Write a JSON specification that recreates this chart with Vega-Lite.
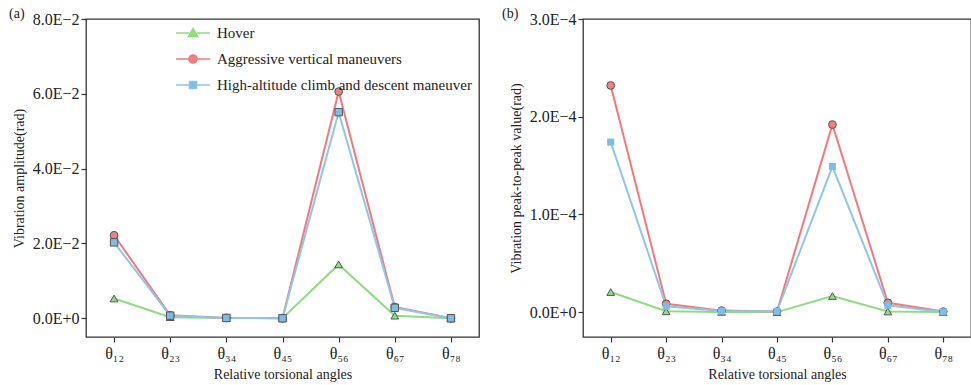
{
  "$schema": "https://vega.github.io/schema/vega-lite/v6.json",
  "background": "white",
  "padding": {"left": 8, "top": 6, "right": 1, "bottom": 2},
  "spacing": 21,
  "config": {
    "font": "Liberation Serif",
    "view": {"stroke": "#333", "strokeWidth": 1.3},
    "axis": {"grid": false, "domain": false, "tickColor": "#333", "tickSize": 5, "tickWidth": 1.2, "labelFont": "Liberation Serif", "titleFont": "Liberation Serif", "labelColor": "#222", "titleColor": "#222", "labelFontSize": 16, "titleFontSize": 14, "titleFontWeight": "normal"},
    "legend": {"labelFont": "Liberation Serif", "labelFontSize": 15, "labelColor": "#222", "labelLimit": 400},
    "title": {"font": "Liberation Serif", "fontSize": 14, "fontWeight": "normal", "color": "#222"}
  },
  "datasets": {
    "d": [
      {"angle": "θ₁₂", "series": "Hover", "amp": 0.0053, "p2p": 0.0000205},
      {"angle": "θ₂₃", "series": "Hover", "amp": 0.0003, "p2p": 0.0000008},
      {"angle": "θ₃₄", "series": "Hover", "amp": 0.0001, "p2p": 0.0000002},
      {"angle": "θ₄₅", "series": "Hover", "amp": 0.0000, "p2p": 0.0},
      {"angle": "θ₅₆", "series": "Hover", "amp": 0.0144, "p2p": 0.0000164},
      {"angle": "θ₆₇", "series": "Hover", "amp": 0.0007, "p2p": 0.0000006},
      {"angle": "θ₇₈", "series": "Hover", "amp": 0.0000, "p2p": 0.0},
      {"angle": "θ₁₂", "series": "Aggressive vertical maneuvers", "amp": 0.0222, "p2p": 0.000232},
      {"angle": "θ₂₃", "series": "Aggressive vertical maneuvers", "amp": 0.0008, "p2p": 0.0000085},
      {"angle": "θ₃₄", "series": "Aggressive vertical maneuvers", "amp": 0.0001, "p2p": 0.0000015},
      {"angle": "θ₄₅", "series": "Aggressive vertical maneuvers", "amp": 0.0000, "p2p": 0.0000005},
      {"angle": "θ₅₆", "series": "Aggressive vertical maneuvers", "amp": 0.0606, "p2p": 0.000192},
      {"angle": "θ₆₇", "series": "Aggressive vertical maneuvers", "amp": 0.0030, "p2p": 0.0000095},
      {"angle": "θ₇₈", "series": "Aggressive vertical maneuvers", "amp": 0.0000, "p2p": 0.0000005},
      {"angle": "θ₁₂", "series": "High-altitude climb and descent maneuver", "amp": 0.0203, "p2p": 0.000174},
      {"angle": "θ₂₃", "series": "High-altitude climb and descent maneuver", "amp": 0.0007, "p2p": 0.000006},
      {"angle": "θ₃₄", "series": "High-altitude climb and descent maneuver", "amp": 0.0001, "p2p": 0.000001},
      {"angle": "θ₄₅", "series": "High-altitude climb and descent maneuver", "amp": 0.0000, "p2p": 0.0000008},
      {"angle": "θ₅₆", "series": "High-altitude climb and descent maneuver", "amp": 0.0551, "p2p": 0.000149},
      {"angle": "θ₆₇", "series": "High-altitude climb and descent maneuver", "amp": 0.0028, "p2p": 0.000007},
      {"angle": "θ₇₈", "series": "High-altitude climb and descent maneuver", "amp": 0.0000, "p2p": 0.0000002}
    ]
  },
  "hconcat": [
    {
      "width": 393,
      "height": 318,
      "title": {"text": "(a)", "anchor": "start", "frame": "group", "dx": -77, "dy": 21, "offset": 0, "baseline": "alphabetic"},
      "data": {"name": "d"},
      "encoding": {
        "x": {"field": "angle", "type": "nominal", "sort": null, "scale": {"type": "point", "padding": 0.5, "domain": ["θ₁₂", "θ₂₃", "θ₃₄", "θ₄₅", "θ₅₆", "θ₆₇", "θ₇₈"]}, "axis": {"title": "Relative torsional angles", "labelAngle": 0, "labelPadding": 3, "titlePadding": 6}},
        "y": {"field": "amp", "type": "quantitative", "scale": {"domain": [-0.005, 0.08], "nice": false, "zero": false}, "axis": {"title": "Vibration amplitude(rad)", "values": [0, 0.02, 0.04, 0.06, 0.08], "labelExpr": "datum.value == 0 ? '0.0E+0' : format(datum.value / 0.01, '.1f') + 'E\u22122'", "labelPadding": 2, "titlePadding": 6}}
      },
      "layer": [
        {
          "mark": {"type": "line", "strokeWidth": 2},
          "encoding": {
            "color": {"field": "series", "type": "nominal", "scale": {"domain": ["Hover", "Aggressive vertical maneuvers", "High-altitude climb and descent maneuver"], "range": ["#8EDC7E", "#F47878", "#8EC6E8"]},
              "legend": {"title": null, "orient": "none", "legendX": 89, "legendY": -4, "symbolSize": 1156, "labelOffset": 6, "rowPadding": -7, "padding": 0,
                "encode": {"symbols": {"update": {
                  "shape": {"signal": "datum.value === 'Hover' ? 'M-1,0H-0.22M0.22,0H1M0,-0.27L0.27,0.2L-0.27,0.2Z' : datum.value === 'Aggressive vertical maneuvers' ? 'M-1,0H-0.24M0.24,0H1M0.24,0A0.24,0.24 0 1 1 -0.24,0A0.24,0.24 0 1 1 0.24,0Z' : 'M-1,0H-0.21M0.21,0H1M-0.21,-0.21H0.21V0.21H-0.21Z'"},
                  "fill": {"signal": "datum.value === 'Hover' ? '#90E080' : datum.value === 'Aggressive vertical maneuvers' ? '#F08080' : '#7DBDE6'"},
                  "strokeWidth": {"value": 1.5},
                  "opacity": {"value": 1}
                }}}}}
          }
        },
        {
          "transform": [{"filter": "datum.series === 'Hover'"}],
          "mark": {"type": "point", "filled": true, "size": 60, "shape": "triangle-up", "fill": "#90E080", "stroke": "#555", "strokeWidth": 1, "opacity": 1},
          "encoding": {}
        },
        {
          "transform": [{"filter": "datum.series === 'Aggressive vertical maneuvers'"}],
          "mark": {"type": "point", "filled": true, "size": 60, "shape": "circle", "fill": "#F08080", "stroke": "#555", "strokeWidth": 1, "opacity": 1},
          "encoding": {}
        },
        {
          "transform": [{"filter": "datum.series === 'High-altitude climb and descent maneuver'"}],
          "mark": {"type": "point", "filled": true, "size": 55, "shape": "square", "fill": "#7DBDE6", "stroke": "#555", "strokeWidth": 1, "opacity": 1},
          "encoding": {}
        }
      ]
    },
    {
      "width": 388,
      "height": 318,
      "title": {"text": "(b)", "anchor": "start", "frame": "group", "dx": -81, "dy": 21, "offset": 0, "baseline": "alphabetic"},
      "data": {"name": "d"},
      "encoding": {
        "x": {"field": "angle", "type": "nominal", "sort": null, "scale": {"type": "point", "padding": 0.5, "domain": ["θ₁₂", "θ₂₃", "θ₃₄", "θ₄₅", "θ₅₆", "θ₆₇", "θ₇₈"]}, "axis": {"title": "Relative torsional angles", "labelAngle": 0, "labelPadding": 3, "titlePadding": 6}},
        "y": {"field": "p2p", "type": "quantitative", "scale": {"domain": [-0.0000255, 0.0003], "nice": false, "zero": false}, "axis": {"title": "Vibration peak-to-peak value(rad)", "values": [0, 0.0001, 0.0002, 0.0003], "labelExpr": "datum.value == 0 ? '0.0E+0' : format(datum.value / 0.0001, '.1f') + 'E\u22124'", "labelPadding": 2, "titlePadding": 6}}
      },
      "layer": [
        {
          "mark": {"type": "line", "strokeWidth": 2},
          "encoding": {
            "color": {"field": "series", "type": "nominal", "scale": {"domain": ["Hover", "Aggressive vertical maneuvers", "High-altitude climb and descent maneuver"], "range": ["#8EDC7E", "#F47878", "#8EC6E8"]},
              "legend": {"title": null, "orient": "none", "legendX": 90, "legendY": -4, "symbolSize": 1156, "labelOffset": 6, "rowPadding": -7, "padding": 0,
                "encode": {"symbols": {"update": {
                  "shape": {"signal": "datum.value === 'Hover' ? 'M-1,0H-0.22M0.22,0H1M0,-0.27L0.27,0.2L-0.27,0.2Z' : datum.value === 'Aggressive vertical maneuvers' ? 'M-1,0H-0.24M0.24,0H1M0.24,0A0.24,0.24 0 1 1 -0.24,0A0.24,0.24 0 1 1 0.24,0Z' : 'M-1,0H-0.21M0.21,0H1M-0.21,-0.21H0.21V0.21H-0.21Z'"},
                  "fill": {"signal": "datum.value === 'Hover' ? '#90E080' : datum.value === 'Aggressive vertical maneuvers' ? '#F08080' : '#7DBDE6'"},
                  "strokeWidth": {"value": 1.5},
                  "opacity": {"value": 1}
                }}}}}
          }
        },
        {
          "transform": [{"filter": "datum.series === 'Hover'"}],
          "mark": {"type": "point", "filled": true, "size": 60, "shape": "triangle-up", "fill": "#90E080", "stroke": "#555", "strokeWidth": 1, "opacity": 1},
          "encoding": {}
        },
        {
          "transform": [{"filter": "datum.series === 'Aggressive vertical maneuvers'"}],
          "mark": {"type": "point", "filled": true, "size": 60, "shape": "circle", "fill": "#F08080", "stroke": "#555", "strokeWidth": 1, "opacity": 1},
          "encoding": {}
        },
        {
          "transform": [{"filter": "datum.series === 'High-altitude climb and descent maneuver'"}],
          "mark": {"type": "point", "filled": true, "size": 50, "shape": "square", "fill": "#7DBDE6", "strokeWidth": 0, "opacity": 1},
          "encoding": {}
        }
      ]
    }
  ]
}
